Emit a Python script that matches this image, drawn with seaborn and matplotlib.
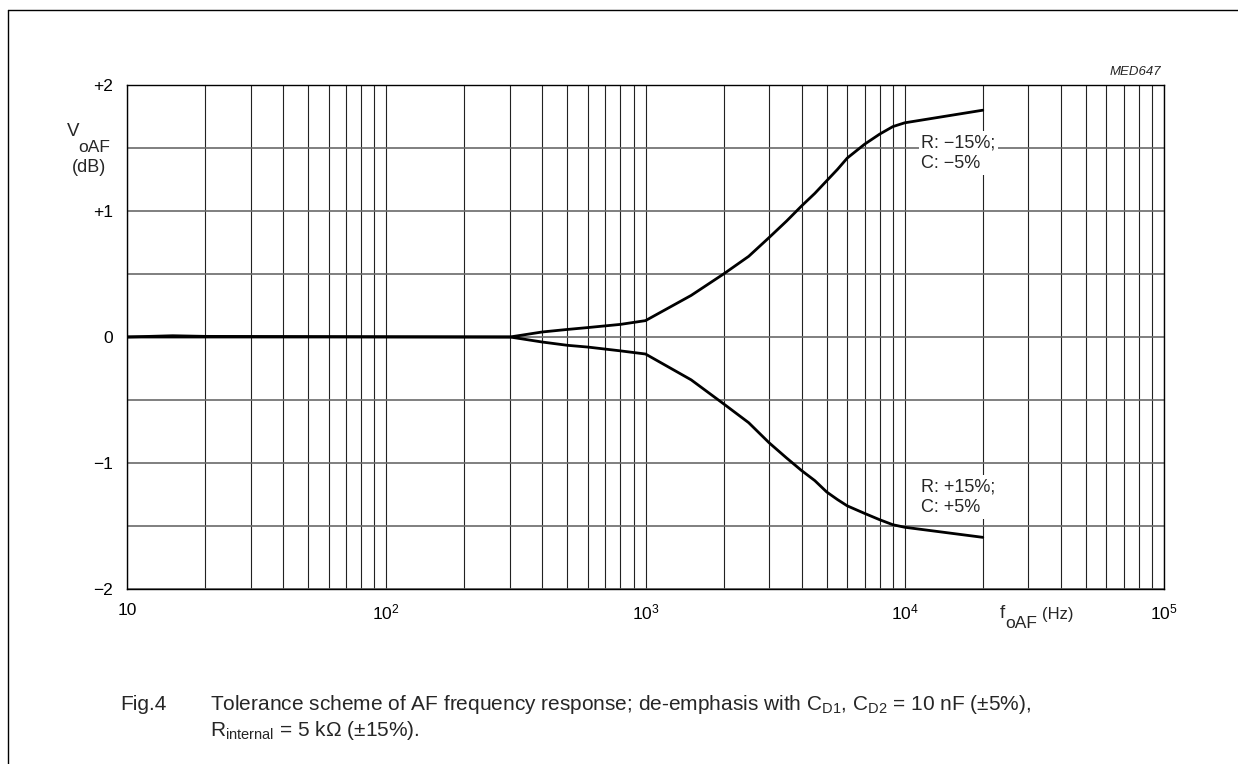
import numpy as np
import pandas as pd
import seaborn as sns
import matplotlib.pyplot as plt
from matplotlib.lines import Line2D

# data
freq_upper = [10, 15, 20, 300, 400, 500, 600, 800, 1000, 1500, 2000, 2500, 3000, 3500, 4000,
              4500, 5000, 5500, 6000, 7000, 8000, 9000, 10000, 20000]
gain_upper = [0.0, 0.01, 0.005, 0.0, 0.04, 0.06, 0.075, 0.10, 0.13, 0.33, 0.50, 0.64, 0.79,
              0.92, 1.04, 1.14, 1.24, 1.33, 1.42, 1.53, 1.61, 1.67, 1.70, 1.80]
freq_lower = [10, 20, 300, 400, 500, 600, 800, 1000, 1500, 2000, 2500, 3000, 3500, 4000,
              4500, 5000, 5500, 6000, 7000, 8000, 9000, 10000, 20000]
gain_lower = [0.0, 0.0, 0.0, -0.04, -0.066, -0.08, -0.11, -0.135, -0.34, -0.53, -0.68, -0.84,
              -0.96, -1.06, -1.14, -1.23, -1.29, -1.34, -1.40, -1.45, -1.49, -1.51, -1.59]

y_ticks = [-2, -1, 0, 1, 2]
y_labels = ['\u22122', '\u22121', '0', '+1', '+2']
x_ticks = [10, 100, 1000, 10000, 100000]
x_labels = ['10', '10$^2$', '10$^3$', '10$^4$', '10$^5$']

sns.set_style("white")
plt.rcParams['font.family'] = ['Liberation Sans', 'DejaVu Sans']
plt.rcParams['mathtext.fontset'] = 'custom'
plt.rcParams['mathtext.rm'] = 'Liberation Sans'
plt.rcParams['mathtext.it'] = 'Liberation Sans:italic'

W, H = 1238, 764


def px(x, y):
    # pixel position -> figure fraction
    return x / W, 1 - y / H


fig = plt.figure(figsize=(12.38, 7.64), dpi=100)
ax = fig.add_axes([127 / W, 1 - 589 / H, (1164 - 127) / W, (589 - 85) / H])

df_up = pd.DataFrame({'f': freq_upper, 'v': gain_upper})
df_lo = pd.DataFrame({'f': freq_lower, 'v': gain_lower})
sns.lineplot(data=df_up, x='f', y='v', ax=ax, color='black', lw=2.0, zorder=3)
sns.lineplot(data=df_lo, x='f', y='v', ax=ax, color='black', lw=2.0, zorder=3)

ax.set_xscale('log')
ax.set_xlim(10, 100000)
ax.set_ylim(-2, 2)
ax.set_xticks(x_ticks)
ax.set_xticklabels(x_labels)
minor_x = [m * 10 ** d for d in range(1, 5) for m in range(2, 10)]
ax.set_xticks(minor_x, minor=True)
ax.set_yticks(y_ticks)
ax.set_yticklabels(y_labels)
ax.set_yticks([-1.5, -0.5, 0.5, 1.5], minor=True)
ax.tick_params(axis='both', which='both', length=0, labelsize=12.5, colors='black')
ax.tick_params(axis='x', pad=10)
ax.tick_params(axis='y', pad=10)
ax.xaxis.grid(True, which='both', color='#222222', lw=0.8)
ax.yaxis.grid(True, which='both', color='#6a6a6a', lw=1.2)
ax.set_axisbelow(True)
for s in ax.spines.values():
    s.set_color('black')
    s.set_linewidth(1.0)
ax.set_xlabel('')
ax.set_ylabel('')

box = dict(boxstyle='square,pad=0.15', facecolor='white', edgecolor='none')
ax.text(11600, 1.46, 'R: \u221215%;\nC: \u22125%', fontsize=13, ha='left', va='center',
        linespacing=1.3, bbox=box, zorder=4)
ax.text(11600, -1.27, 'R: +15%;\nC: +5%', fontsize=13, ha='left', va='center',
        linespacing=1.3, bbox=box, zorder=4)

# y axis caption
fig.text(*px(73, 131), 'V', fontsize=13.5, ha='center', va='center')
fig.text(*px(78, 147), 'oAF', fontsize=12.5, ha='left', va='center')
fig.text(*px(89, 168), '(dB)', fontsize=13, ha='center', va='center')
# x axis caption
fig.text(*px(1002.5, 613), 'f', fontsize=13.5, ha='center', va='center')
fig.text(*px(1005, 624), 'oAF', fontsize=12.5, ha='left', va='center')
fig.text(*px(1042, 615), '(Hz)', fontsize=12, ha='left', va='center')
fig.text(*px(1161, 72), 'MED647', fontsize=9.5, style='italic', ha='right', va='center')

# figure caption
fig.text(*px(120, 705), 'Fig.4', fontsize=15, ha='left', va='center')
fig.text(*px(210, 705),
         'Tolerance scheme of AF frequency response; de-emphasis with C$_{\\mathrm{D1}}$, '
         'C$_{\\mathrm{D2}}$ = 10 nF (\u00b15%),', fontsize=15, ha='left', va='center')
fig.text(*px(210, 731), 'R$_{\\mathrm{internal}}$ = 5 k\u03a9 (\u00b115%).',
         fontsize=15, ha='left', va='center')

# page frame (left and top edges)
fig.add_artist(Line2D([8 / W, 8 / W], [0, 1 - 10 / H], transform=fig.transFigure,
                      color='black', lw=1.0))
fig.add_artist(Line2D([8 / W, 1], [1 - 10 / H, 1 - 10 / H], transform=fig.transFigure,
                      color='black', lw=1.0))

fig.savefig('out.png', dpi=100)
